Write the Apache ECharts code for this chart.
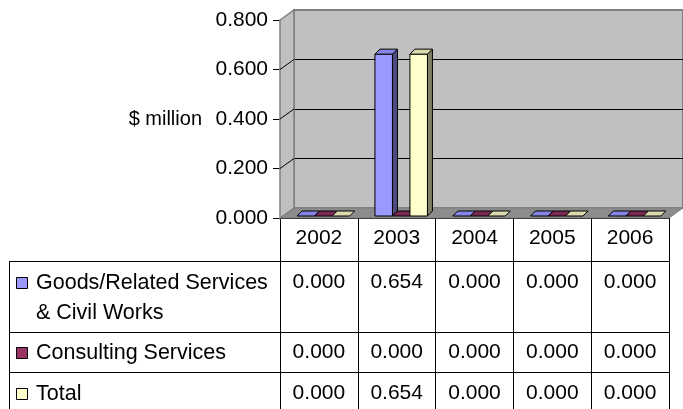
<!DOCTYPE html>
<html><head><meta charset="utf-8">
<script src="https://cdn.jsdelivr.net/npm/echarts@6/dist/echarts.min.js"></script>
<style>html,body{margin:0;padding:0;background:#fff;}#c{width:683px;height:409px;}</style>
</head><body><div id="c"></div>
<script>
// ---- data ----
const categories = ['2002', '2003', '2004', '2005', '2006'];
const goodsValues = [0.000, 0.654, 0.000, 0.000, 0.000];
const consultingValues = [0.000, 0.000, 0.000, 0.000, 0.000];
const totalValues = [0.000, 0.654, 0.000, 0.000, 0.000];
const seriesNames = ['Goods/Related Services\n& Civil Works', 'Consulting Services', 'Total'];
const yTicks = [0.0, 0.2, 0.4, 0.6, 0.8];
const yAxisName = '$ million';

// ---- layout / style ----
const FONT = '"Liberation Sans", Arial, sans-serif';
const FRONT = {left: 280, top: 20, width: 389, height: 198};
const DEPTH = [14, -10];
const BACK = {left: FRONT.left + DEPTH[0], top: FRONT.top + DEPTH[1], width: FRONT.width, height: FRONT.height};
const BAR = {width: 17.5, shiftX: 4.5, shiftY: -2, dx: 5, dy: -5};
const faceColors = [
  {front: '#9999FF', top: '#8585E6', side: '#4D4D80'},
  {front: '#993366', top: '#7A2952', side: '#4D1A33'},
  {front: '#FFFFCC', top: '#DADAAE', side: '#808066'}
];
const valuesList = [goodsValues, consultingValues, totalValues];
const TABLE = {left: 9, bottom: 409, rowLines: [261, 332, 372], labelTop: [268, 353, 394], valueCenters: [282.5, 352.5, 393.7], headerCenter: 238};

const chart = echarts.init(document.getElementById('c'));

function barSeries(k) {
  return {
    type: 'custom', name: seriesNames[k], xAxisIndex: 0, yAxisIndex: 0, z: 5, clip: false,
    data: categories.map((c, i) => [i, valuesList[k][i]]),
    renderItem(params, api) {
      const i = api.value(0), v = api.value(1);
      const topP = api.coord([i, v]);
      const baseP = api.coord([i, 0]);
      const n = valuesList.length, w = BAR.width;
      const x = topP[0] - n * w / 2 + k * w + BAR.shiftX;
      const yT = topP[1] + BAR.shiftY, yB = baseP[1] + BAR.shiftY;
      const c = faceColors[k];
      const st = {stroke: '#000', lineWidth: 1};
      const dx = BAR.dx, dy = BAR.dy;
      const children = [];
      if (yB - yT > 0.5) {
        children.push({type: 'polygon', shape: {points: [[x + w, yT], [x + w + dx, yT + dy], [x + w + dx, yB + dy], [x + w, yB]]}, style: Object.assign({fill: c.side}, st)});
        children.push({type: 'rect', shape: {x: x, y: yT, width: w, height: yB - yT}, style: Object.assign({fill: c.front}, st)});
      }
      children.push({type: 'polygon', shape: {points: [[x, yT], [x + dx, yT + dy], [x + w + dx, yT + dy], [x + w, yT]]}, style: Object.assign({fill: c.top}, st)});
      return {type: 'group', children};
    }
  };
}

const wallSeries = {
  type: 'custom', xAxisIndex: 0, yAxisIndex: 0, z: 1, clip: false, silent: true,
  data: [[0, 0]],
  renderItem(params, api) {
    const cs = params.coordSys;
    const x0 = cs.x, x1 = cs.x + cs.width, y0 = cs.y, y1 = cs.y + cs.height;
    const dx = DEPTH[0], dy = DEPTH[1];
    const children = [
      {type: 'polygon', shape: {points: [[x0, y0], [x0 + dx, y0 + dy], [x0 + dx, y1 + dy], [x0, y1]]}, style: {fill: '#C0C0C0', stroke: '#808080', lineWidth: 1.5}},
      {type: 'polygon', shape: {points: [[x0, y1], [x0 + dx, y1 + dy], [x1 + dx, y1 + dy], [x1, y1]]}, style: {fill: '#8C8C8C', stroke: '#808080', lineWidth: 1}}
    ];
    yTicks.forEach((t, idx) => {
      if (idx === 0 || idx === yTicks.length - 1) return;
      const y = api.coord([0, t])[1];
      children.push({type: 'line', shape: {x1: x0, y1: y, x2: x0 + dx, y2: y + dy}, style: {stroke: '#000', lineWidth: 1}});
    });
    return {type: 'group', children};
  }
};

const valueAxes = valuesList.map((vals, k) => ({
  gridIndex: 0, type: 'category', data: categories, position: 'bottom',
  offset: TABLE.valueCenters[k] - (FRONT.top + FRONT.height),
  axisLine: {show: false}, axisTick: {show: false}, splitLine: {show: false},
  axisLabel: {margin: 0, fontSize: 21, color: '#000', fontFamily: FONT, verticalAlign: 'middle',
    formatter: (v, i) => vals[i].toFixed(3)}
}));

const graphic = [];
TABLE.rowLines.forEach(y => graphic.push({type: 'line', silent: true, shape: {x1: TABLE.left, y1: y + 0.5, x2: FRONT.left + FRONT.width, y2: y + 0.5}, style: {stroke: '#000', lineWidth: 1}}));
graphic.push({type: 'line', silent: true, shape: {x1: TABLE.left + 0.5, y1: TABLE.rowLines[0], x2: TABLE.left + 0.5, y2: TABLE.bottom}, style: {stroke: '#000', lineWidth: 1}});
seriesNames.forEach((name, k) => {
  const cy = k === 0 ? TABLE.labelTop[0] + 15 : TABLE.labelTop[k];
  graphic.push({type: 'rect', silent: true, shape: {x: 16.5, y: cy - 5.5, width: 11, height: 11}, style: {fill: faceColors[k].front, stroke: '#000', lineWidth: 1}});
  graphic.push({type: 'text', silent: true, x: 36, y: k === 0 ? TABLE.labelTop[0] : cy,
    style: {text: name, fontSize: 21.5, fontFamily: FONT, fill: '#000', lineHeight: 30, verticalAlign: k === 0 ? 'top' : 'middle', align: 'left'}});
});

const option = {
  animation: false,
  backgroundColor: '#fff',
  textStyle: {fontFamily: FONT},
  grid: [
    Object.assign({show: false, outerBoundsMode: 'none', containLabel: false}, FRONT),
    Object.assign({show: true, backgroundColor: '#C0C0C0', borderColor: '#808080', borderWidth: 2, outerBoundsMode: 'none', containLabel: false}, BACK)
  ],
  xAxis: [
    {gridIndex: 0, type: 'category', data: categories, position: 'bottom',
      axisLine: {show: true, lineStyle: {color: '#000', width: 1}},
      axisTick: {show: true, length: TABLE.bottom - (FRONT.top + FRONT.height), lineStyle: {color: '#000', width: 1}},
      axisLabel: {margin: TABLE.headerCenter - (FRONT.top + FRONT.height), fontSize: 21, color: '#000', fontFamily: FONT, verticalAlign: 'middle'},
      splitLine: {show: false}}
  ].concat(valueAxes).concat([
    {gridIndex: 1, type: 'category', data: categories, show: false}
  ]),
  yAxis: [
    {gridIndex: 0, type: 'value', min: yTicks[0], max: yTicks[yTicks.length - 1], interval: yTicks[1] - yTicks[0],
      name: yAxisName, nameLocation: 'middle', nameRotate: 0, nameGap: 78,
      nameTextStyle: {fontSize: 20, color: '#000', fontFamily: FONT},
      axisLine: {show: true, lineStyle: {color: '#000', width: 1}},
      axisTick: {show: true, length: 7, lineStyle: {color: '#000'}},
      axisLabel: {margin: 12, fontSize: 21, color: '#000', fontFamily: FONT, formatter: v => v.toFixed(3)},
      splitLine: {show: false}},
    {gridIndex: 1, type: 'value', min: yTicks[0], max: yTicks[yTicks.length - 1], interval: yTicks[1] - yTicks[0],
      axisLine: {show: false}, axisTick: {show: false}, axisLabel: {show: false},
      splitLine: {show: true, lineStyle: {color: ['#808080', '#000', '#000', '#000', '#808080'], width: 1}}}
  ],
  series: [wallSeries, barSeries(0), barSeries(1), barSeries(2)],
  graphic: graphic
};
chart.setOption(option);
</script></body></html>
